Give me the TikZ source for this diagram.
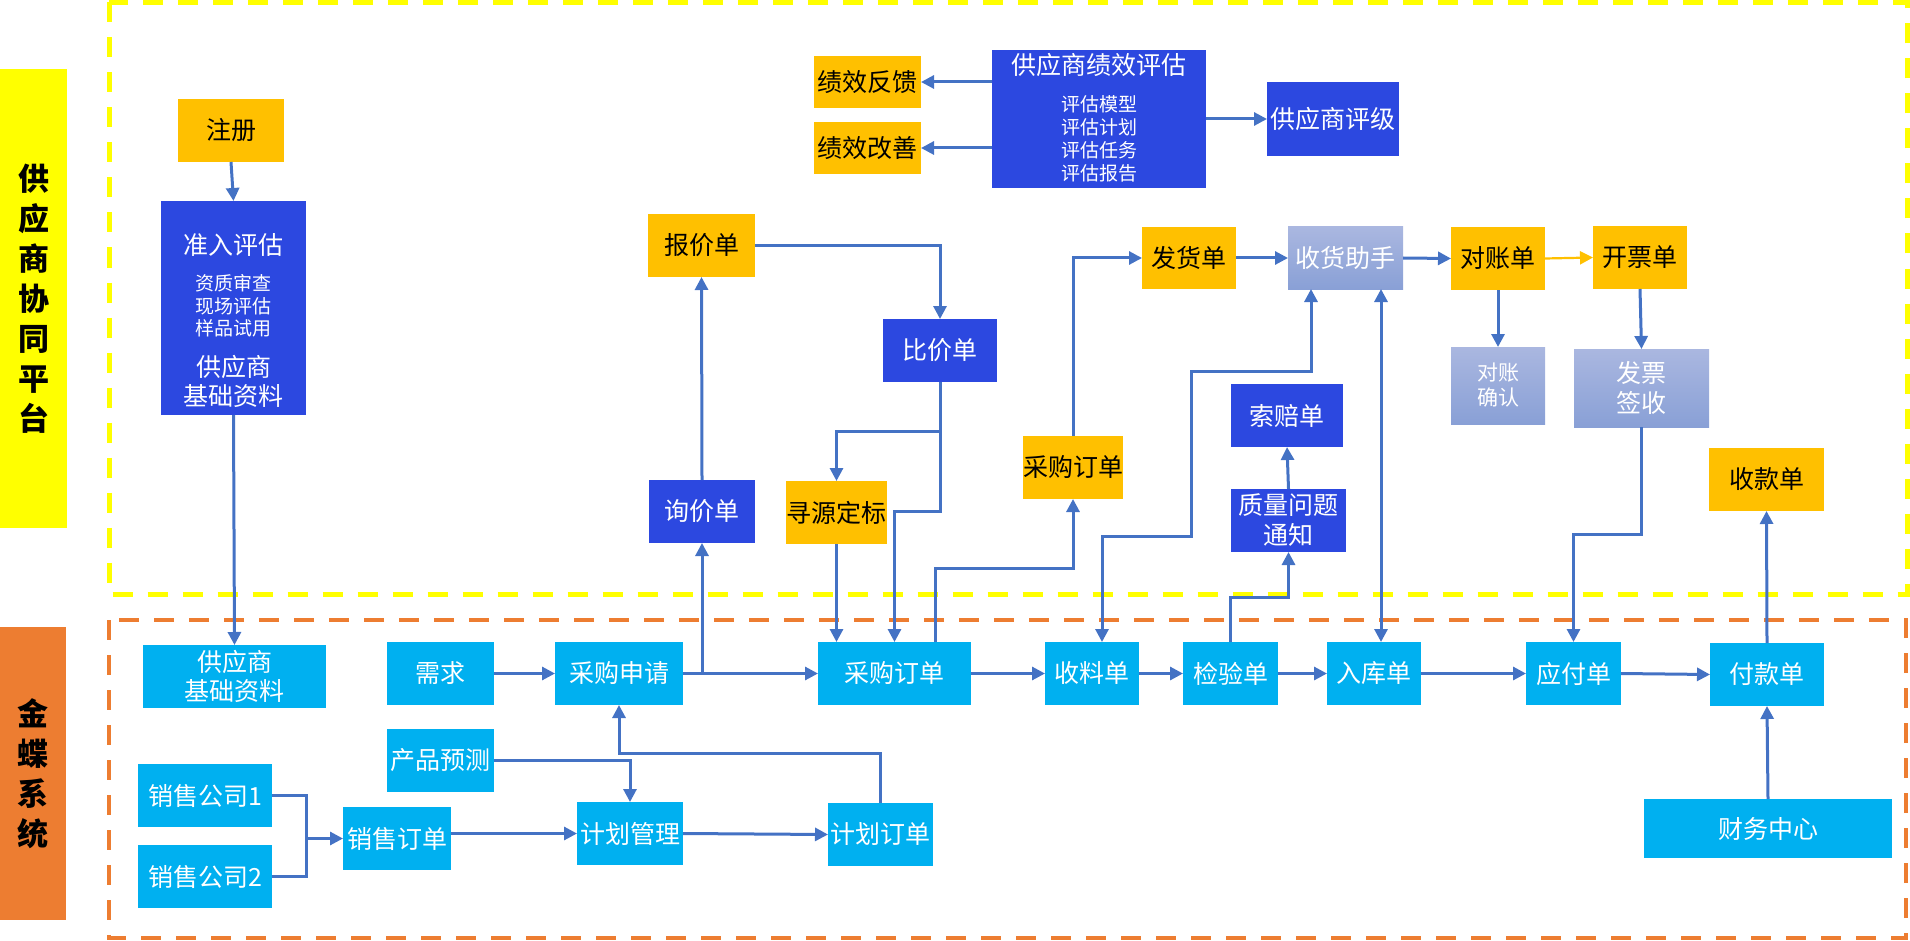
\documentclass[tikz,border=0pt]{standalone}
\usepackage{fontspec}
\setmainfont{Noto Sans CJK SC}
\usetikzlibrary{arrows.meta,calc}
\definecolor{gold}{RGB}{255,192,0}
\definecolor{dblue}{RGB}{44,72,224}
\definecolor{cyanb}{RGB}{0,176,240}
\definecolor{arr}{RGB}{68,114,196}
\definecolor{ylw}{RGB}{255,255,0}
\definecolor{org}{RGB}{237,125,49}
\definecolor{gtop}{RGB}{170,183,224}
\definecolor{gbot}{RGB}{137,160,214}
\begin{document}
\begin{tikzpicture}[x=1pt,y=-1pt,
  box/.style={inner sep=0pt, outer sep=0pt, align=center, font=\fontsize{25}{29}\selectfont},
  goldbox/.style={box, fill=gold, text=black},
  bluebox/.style={box, fill=dblue, text=white},
  cyanbox/.style={box, fill=cyanb, text=white},
  gradbox/.style={box, top color=gtop, bottom color=gbot, text=white},
  sz/.style 2 args={minimum width=#1pt, minimum height=#2pt},
  wtxt/.style={text=white, inner sep=0pt, align=center},
  plain/.style={draw=arr, line width=3pt},
  link/.style={plain, -{Triangle[length=13pt,width=13pt]}},
  dlink/.style={plain, {Triangle[length=13pt,width=13pt]}-{Triangle[length=13pt,width=13pt]}},
  ylink/.style={draw=gold, line width=2.2pt, -{Triangle[length=13pt,width=13pt]}},
  side/.style={inner sep=0pt, align=center, text=black, font=\fontsize{31}{40}\selectfont\bfseries}
]
\useasboundingbox (0,0) rectangle (1910,941);

% side labels
\node[side, fill=ylw, minimum width=67pt, minimum height=459pt] (sideA) at (33.5,298.5) {供\\应\\商\\协\\同\\平\\台};
\node[side, fill=org, minimum width=66pt, minimum height=293pt] (sideB) at (33,773.5) {金\\蝶\\系\\统};

% dashed regions
\draw[ylw, line width=5pt, dash pattern=on 20pt off 15pt] (109,2.5) rectangle (1907,594);
\draw[org, line width=4.5pt, dash pattern=on 20pt off 15pt] (109,620) rectangle (1906,938);

% supplier platform
\node[goldbox, sz={106}{63}] (zc) at (231,130.5) {注册};
\node[bluebox, sz={145}{214}] (zr) at (233.5,308) {};
\node[wtxt, font=\fontsize{25}{29}\selectfont] (zrA) at (233.5,245) {准入评估};
\node[wtxt, font=\fontsize{19}{22.5}\selectfont] (zrB) at (233.5,306) {资质审查\\现场评估\\样品试用};
\node[wtxt, font=\fontsize{25}{29}\selectfont] (zrC) at (233.5,381.5) {供应商\\基础资料};

\node[goldbox, sz={107}{52}] (jxfk) at (867.5,82) {绩效反馈};
\node[goldbox, sz={107}{52}] (jxgs) at (867.5,148) {绩效改善};
\node[bluebox, sz={214}{138}] (jxpg) at (1099,119) {};
\node[wtxt, font=\fontsize{25}{29}\selectfont] (jxpgA) at (1099,65) {供应商绩效评估};
\node[wtxt, font=\fontsize{19}{23}\selectfont] (jxpgB) at (1099,138.5) {评估模型\\评估计划\\评估任务\\评估报告};
\node[bluebox, sz={132}{74}] (pj) at (1333,119) {供应商评级};

\node[goldbox, sz={107}{63}] (bj) at (701.5,245.5) {报价单};
\node[bluebox, sz={114}{63}] (bjd) at (940,350.5) {比价单};
\node[bluebox, sz={106}{63}] (xj) at (702,511.5) {询价单};
\node[goldbox, sz={101}{63}] (xy) at (836.5,512.5) {寻源定标};
\node[goldbox, sz={100}{63}] (cgdd1) at (1073,467.5) {采购订单};
\node[goldbox, sz={94}{62}] (fh) at (1189,258) {发货单};
\node[gradbox, sz={115}{62}] (sh) at (1345.5,258) {收货助手};
\node[goldbox, sz={94}{63}] (dz) at (1498,258.5) {对账单};
\node[goldbox, sz={94}{63}] (kp) at (1640,257.5) {开票单};
\node[gradbox, sz={94}{77}, font=\fontsize{21}{25}\selectfont] (dzqr) at (1498,385.5) {对账\\确认};
\node[gradbox, sz={135}{78}, font=\fontsize{25}{30}\selectfont] (fpqs) at (1641.5,388) {发票\\签收};
\node[bluebox, sz={112}{63}] (sp) at (1287,415.5) {索赔单};
\node[bluebox, sz={115}{63}, font=\fontsize{25}{30}\selectfont] (zl) at (1288.5,520.5) {质量问题\\通知};
\node[goldbox, sz={115}{63}] (sk) at (1766.5,479.5) {收款单};

% Kingdee system
\node[cyanbox, sz={183}{63}] (kjzl) at (234.5,676.5) {供应商\\基础资料};
\node[cyanbox, sz={107}{63}] (xq) at (440.5,673.5) {需求};
\node[cyanbox, sz={128}{63}] (cgsq) at (619,673.5) {采购申请};
\node[cyanbox, sz={153}{63}] (cgdd) at (894.5,673.5) {采购订单};
\node[cyanbox, sz={94}{63}] (sl) at (1092,673.5) {收料单};
\node[cyanbox, sz={95}{63}] (jy) at (1230.5,673.5) {检验单};
\node[cyanbox, sz={94}{63}] (rk) at (1374,673.5) {入库单};
\node[cyanbox, sz={95}{63}] (yf) at (1573.5,673.5) {应付单};
\node[cyanbox, sz={114}{63}] (fk) at (1767,674.5) {付款单};
\node[cyanbox, sz={248}{59}] (cw) at (1768,828.5) {财务中心};
\node[cyanbox, sz={107}{63}] (cpyc) at (440.5,760.5) {产品预测};
\node[cyanbox, sz={134}{63}] (xs1) at (205,795.5) {销售公司1};
\node[cyanbox, sz={134}{63}] (xs2) at (205,876.5) {销售公司2};
\node[cyanbox, sz={108}{63}] (xsdd) at (397,838.5) {销售订单};
\node[cyanbox, sz={106}{63}] (jhgl) at (630,833.5) {计划管理};
\node[cyanbox, sz={105}{63}] (jhdd) at (880.5,834.5) {计划订单};

% connectors
\draw[link] (zc.south) -- (zr.north);
\draw[link] (zr.south) -- (kjzl.north);
\draw[link] (jxpg.west |- jxfk.east) -- (jxfk.east);
\draw[link] (jxpg.west |- jxgs.east) -- (jxgs.east);
\draw[link] (jxpg.east) -- (pj.west);
\draw[link] (bj.east) -| (bjd.north);
\draw[link] (bjd.south) -- ++(0,49) -| (xy.north);
\draw[link] (bjd.south) -- ++(0,129) -| (cgdd.north);
\draw[link] (xy.south) -- (xy.south |- cgdd.north);
\draw[link] (xj.north) -- (bj.south);
\draw[link] (cgsq.east) -- (cgdd.west);
\draw[link] (xj.south |- cgsq.east) -- (xj.south);
\draw[link] ([xshift=40.5pt]cgdd.north) -- ++(0,-74) -| (cgdd1.south);
\draw[link] (cgdd1.north) |- (fh.west);
\draw[link] (fh.east) -- (sh.west);
\draw[link] (sh.east) -- (dz.west);
\draw[ylink] (dz.east) -- (kp.west);
\draw[link] (dz.south) -- (dzqr.north);
\draw[link] (kp.south) -- (fpqs.north);
\draw[link] (fpqs.south) -- ++(0,107) -| (yf.north);
\draw[link] (fk.north) -- (sk.south);
\draw[link] (cw.north) -- (fk.south);
\draw[link] (yf.east) -- (fk.west);
\draw[link] (rk.east) -- (yf.west);
\draw[link] (jy.east) -- (rk.west);
\draw[link] (sl.east) -- (jy.west);
\draw[link] (cgdd.east) -- (sl.west);
\draw[link] (jy.north) -- ++(0,-45) -| (zl.south);
\draw[link] (zl.north) -- (sp.south);
\draw[dlink] ([xshift=10pt]sl.north) -- ++(0,-106) -| (1191,371) -| ([xshift=-34.5pt]sh.south);
\draw[dlink] ([xshift=7pt]rk.north) -- ([xshift=7pt]rk.north |- sh.south);
\draw[link] (cpyc.east) -| (jhgl.north);
\draw[link] (jhdd.north) -- ++(0,-50) -| (cgsq.south);
\draw[link] (jhgl.east) -- (jhdd.west);
\draw[link] (xsdd.east |- jhgl.west) -- (jhgl.west);
\coordinate (jn) at (306,838.5);
\draw[plain] (xs1.east) -| (jn) |- (xs2.east);
\draw[link] (jn) -- (xsdd.west);
\draw[link] (xq.east) -- (cgsq.west);
\end{tikzpicture}
\end{document}
